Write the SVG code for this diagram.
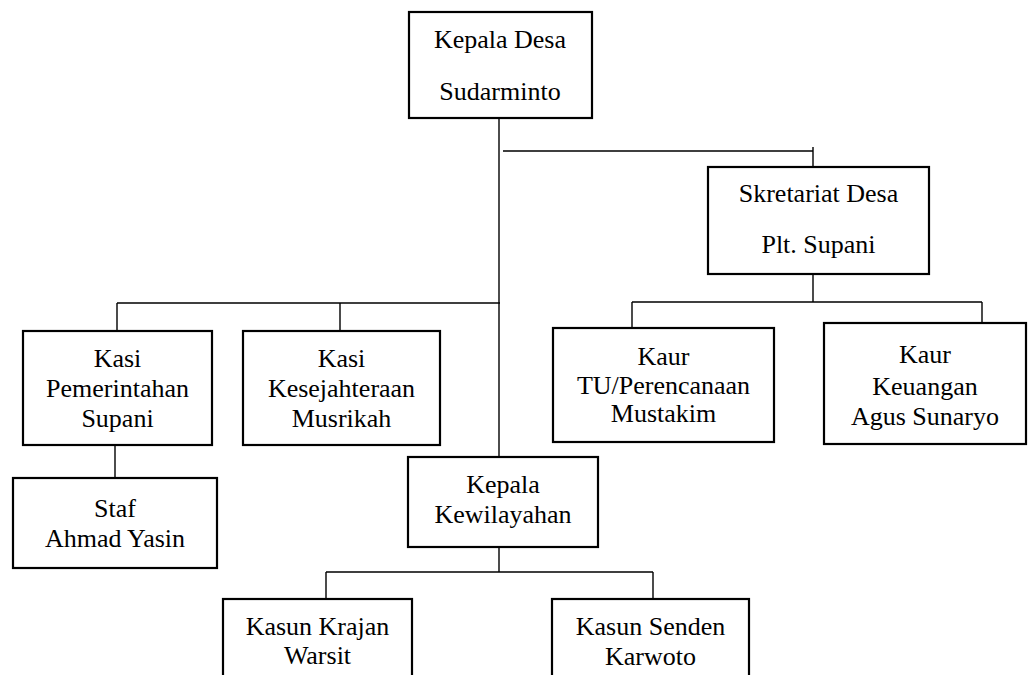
<svg xmlns="http://www.w3.org/2000/svg" width="1028" height="675" viewBox="0 0 1028 675">
<style>
.box{fill:#fff;stroke:#000;stroke-width:2.2}
.ln{stroke:#000;stroke-width:1.4;fill:none}
</style>
<rect width="1028" height="675" fill="#fff"/>
<g id="connectors">
<path class="ln" d="M499,118 V457"/>
<path class="ln" d="M503,151 H813 M813,147 V167"/>
<path class="ln" d="M117,303 H500 M117,303 V331 M340,303 V331"/>
<path class="ln" d="M813,274 V302 M632,302 H982 M632,302 V328 M982,302 V323"/>
<path class="ln" d="M115,445 V478"/>
<path class="ln" d="M499,547 V572 M326,572 H653 M326,572 V599 M653,572 V599"/>
</g>
<g font-family="Liberation Serif, Times New Roman, serif" font-size="26" fill="#000" text-anchor="middle">
<g id="kepala-desa"><rect class="box" x="409" y="12" width="183" height="106"/><text x="500" y="48">Kepala Desa</text><text x="500" y="100">Sudarminto</text></g>
<g id="skretariat"><rect class="box" x="708" y="167" width="221" height="107"/><text x="818.5" y="202">Skretariat Desa</text><text x="818.5" y="253">Plt. Supani</text></g>
<g id="kasi-pemerintahan"><rect class="box" x="23" y="331" width="189" height="114"/><text x="117.5" y="367">Kasi</text><text x="117.5" y="397">Pemerintahan</text><text x="117.5" y="427">Supani</text></g>
<g id="kasi-kesejahteraan"><rect class="box" x="243" y="331" width="197" height="114"/><text x="341.5" y="367">Kasi</text><text x="341.5" y="397">Kesejahteraan</text><text x="341.5" y="427">Musrikah</text></g>
<g id="kaur-tu"><rect class="box" x="553" y="328" width="221" height="114"/><text x="663.5" y="365">Kaur</text><text x="663.5" y="394">TU/Perencanaan</text><text x="663.5" y="422">Mustakim</text></g>
<g id="kaur-keuangan"><rect class="box" x="824" y="323" width="202" height="121"/><text x="925" y="363">Kaur</text><text x="925" y="395">Keuangan</text><text x="925" y="425">Agus Sunaryo</text></g>
<g id="staf"><rect class="box" x="13" y="478" width="204" height="90"/><text x="115" y="517">Staf</text><text x="115" y="547">Ahmad Yasin</text></g>
<g id="kepala-kewilayahan"><rect class="box" x="408" y="457" width="190" height="90"/><text x="503" y="493">Kepala</text><text x="503" y="523">Kewilayahan</text></g>
<g id="kasun-krajan"><rect class="box" x="223" y="599" width="189" height="100"/><text x="317.5" y="635">Kasun Krajan</text><text x="317.5" y="664">Warsit</text></g>
<g id="kasun-senden"><rect class="box" x="552" y="599" width="197" height="100"/><text x="650.5" y="635">Kasun Senden</text><text x="650.5" y="665">Karwoto</text></g>
</g>
</svg>
